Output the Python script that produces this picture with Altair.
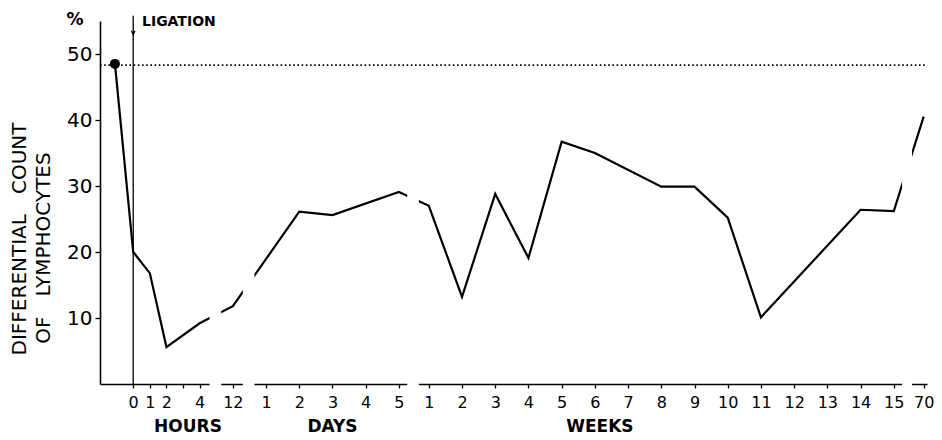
import altair as alt
import pandas as pd

# ---- data ----------------------------------------------------------------
time_label = ["pre", "0 h", "1 h", "2 h", "4 h", "12 h", "2 d", "3 d", "5 d",
              "1 w", "2 w", "3 w", "4 w", "5 w", "6 w", "8 w", "9 w", "10 w",
              "11 w", "14 w", "15 w", "70 w"]
time_slot = [-1.1, 0, 1, 2, 4, 6, 10, 12, 16,
             17.8, 19.8, 21.8, 23.8, 25.8, 27.8, 31.8, 33.8, 35.8,
             37.8, 43.8, 45.8, 47.6]
lymph_pct = [48.5, 20.0, 16.8, 5.6, 9.2, 11.8, 26.1, 25.6, 29.1,
             27.0, 13.2, 28.8, 19.1, 36.7, 35.0, 29.9, 29.9, 25.2,
             10.1, 26.4, 26.2, 40.5]

tick_slot = [0, 1, 2, 3, 4, 6, 8, 10, 12, 14, 16,
             17.8, 19.8, 21.8, 23.8, 25.8, 27.8, 29.8, 31.8, 33.8, 35.8,
             37.8, 39.8, 41.8, 43.8, 45.8, 47.6]
tick_label = ["0", "1", "2", "", "4", "12", "1", "2", "3", "4", "5",
              "1", "2", "3", "4", "5", "6", "7", "8", "9", "10",
              "11", "12", "13", "14", "15", "70"]

group_name = ["HOURS", "DAYS", "WEEKS"]
group_slot = [3.3, 12, 28.1]

break_start = [4.6, 6.6, 16.5, 46.3]
break_end = [5.3, 7.3, 17.2, 46.9]

baseline_pct = [48.3]
ligation_slot = [0]
y_ticks = [10, 20, 30, 40, 50]

# ---- tables ---------------------------------------------------------------
series = pd.DataFrame({"label": time_label, "slot": time_slot, "pct": lymph_pct})
groups = pd.DataFrame({"name": group_name, "slot": group_slot})
breaks = pd.DataFrame({"slot": break_start, "slot_end": break_end})
baseline = pd.DataFrame({"pct": baseline_pct})
ligation = pd.DataFrame({"slot": ligation_slot})

W, H = 827, 363
XS = alt.Scale(domain=[-2, 47.8], nice=False, zero=False)
YS = alt.Scale(domain=[0, 55], nice=False, zero=False)
FONT = "DejaVu Sans"

label_expr = ("[" + ",".join("'%s'" % t for t in tick_label) + "][indexof(["
              + ",".join(str(s) for s in tick_slot) + "], datum.value)]")

XA = alt.Axis(values=tick_slot, labelExpr=label_expr, grid=False,
              tickSize=4, tickWidth=1.3, tickColor="black",
              domainColor="black", domainWidth=1.6,
              labelFont=FONT, labelFontSize=16, labelColor="black",
              labelPadding=6, labelOverlap=False, labelFlush=False, zindex=0)
YA = alt.Axis(values=y_ticks, grid=False, tickSize=5, tickWidth=1.3,
              tickColor="black", domainColor="black", domainWidth=1.6,
              labelFont=FONT, labelFontSize=20, labelColor="black",
              labelPadding=3, zindex=0)


def X(field):
    return alt.X(field, scale=XS, axis=XA, title=None)


def Y(field):
    return alt.Y(field, scale=YS, axis=YA, title=None)


line = alt.Chart(series).mark_line(color="black", strokeWidth=2.2).encode(
    x=X("slot:Q"), y=Y("pct:Q"))

dot = alt.Chart(series).transform_filter("datum.label == 'pre'").mark_point(
    filled=True, color="black", size=100, opacity=1).encode(
    x=X("slot:Q"), y=Y("pct:Q"))

gaps = alt.Chart(breaks).mark_rect(color="white").encode(
    x=X("slot:Q"), x2="slot_end:Q",
    y=alt.YDatum(-0.8, scale=YS, axis=YA, title=None),
    y2=alt.Y2Datum(45))

dotted = alt.Chart(baseline).mark_rule(color="black", strokeWidth=1.8,
                                        strokeDash=[1.6, 2.6]).encode(
    y=Y("pct:Q"), x=alt.value(0), x2=alt.value(W))

lig = alt.Chart(ligation).mark_rule(color="black", strokeWidth=1.3).encode(
    x=X("slot:Q"),
    y=alt.YDatum(0, scale=YS, axis=YA, title=None), y2=alt.Y2Datum(55.8))

arrow = alt.Chart(ligation).mark_point(
    shape="M -0.5 -0.6 L 0 0.5 L 0.5 -0.6", filled=False, color="black",
    strokeWidth=1.3, size=49, opacity=1).encode(
    x=X("slot:Q"), y=alt.YDatum(53.2, scale=YS, axis=YA, title=None))

group_text = alt.Chart(groups).mark_text(
    font=FONT, fontSize=17, fontWeight="bold", color="black",
    baseline="middle", align="center").encode(
    x=X("slot:Q"), y=alt.value(406), text="name:N")


def note(txt, x, y, **kw):
    return alt.Chart(pd.DataFrame({"t": [txt]})).mark_text(
        font=FONT, color="black", **kw).encode(
        x=alt.value(x), y=alt.value(y), text="t:N")


pct_sign = note("%", -25, -1, fontSize=17, fontWeight="bold", align="center",
                baseline="middle")
lig_text = note("LIGATION", 42, 1, fontSize=14, fontWeight="bold", align="left",
                baseline="middle")
ytitle1 = note("DIFFERENTIAL\u2003COUNT", -80, 218, fontSize=20, angle=270,
               align="center", baseline="middle")
ytitle2 = note("OF\u2003LYMPHOCYTES", -56, 227, fontSize=20, angle=270,
               align="center", baseline="middle")

chart = alt.layer(line, dot, gaps, dotted, lig, arrow, group_text,
                  pct_sign, lig_text, ytitle1, ytitle2).properties(
    width=W, height=H,
    autosize=alt.AutoSizeParams(type="none"),
    padding={"left": 92, "top": 13, "right": 7, "bottom": 52},
    background="white",
).configure_view(stroke=None)

chart.save("out.html", embed_options={"renderer": "svg", "actions": False})
